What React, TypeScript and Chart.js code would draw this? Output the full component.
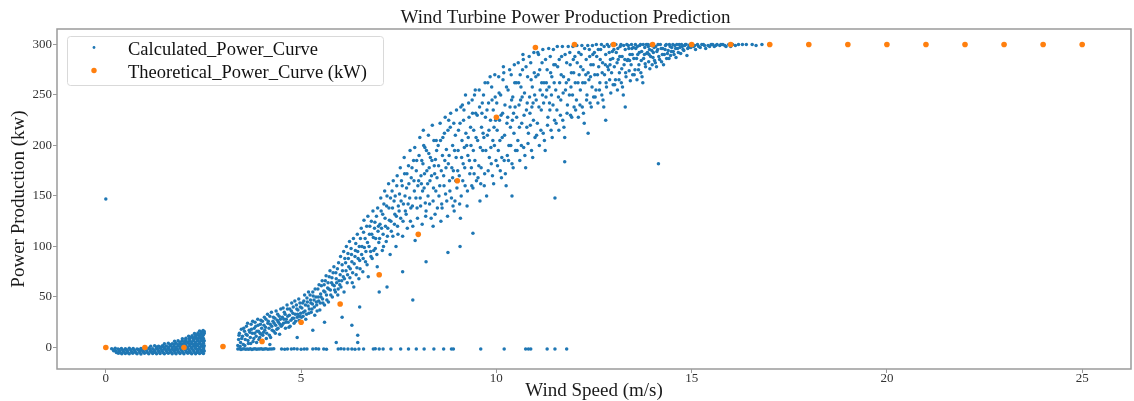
import React, { useEffect, useRef } from 'react';
import { Chart, registerables } from 'chart.js';

Chart.register(...registerables);

const chartTitle = 'Wind Turbine Power Production Prediction';
const xAxisLabel = 'Wind Speed (m/s)';
const yAxisLabel = 'Power Production (kw)';
const seriesNames = ['Calculated_Power_Curve', 'Theoretical_Power_Curve (kW)'];
const xTickValues = [0, 5, 10, 15, 20, 25];
const yTickValues = [0, 50, 100, 150, 200, 250, 300];

const theoreticalWind = [0, 1, 2, 3, 4, 5, 6, 7, 8, 9, 10, 11, 12, 13, 14, 15, 16, 17, 18, 19, 20, 21, 22, 23, 24, 25];
const theoreticalPower = [0, 0, 0, 1, 6, 25, 43, 72, 112, 165, 228, 297, 300, 300, 300, 300, 300, 300, 300, 300, 300, 300, 300, 300, 300, 300];

// calculated power: low wind (cut-in) region
const lowWindPoints = [
  [0.32,-5.8],[0.41,-6.2],[0.5,-5.9],[0.6,-6.3],[0.69,-5.7],[0.8,-6.1],[0.9,-6.4],[0.99,-5.8],[1.1,-6.2],[1.2,-5.9],[1.3,-6.3],[1.39,-6],[1.5,-6.2],[1.6,-5.8],[1.7,-6.1],[1.8,-6.3],[1.9,-5.9],[2.0,-6.2],[2.1,-5.8],[2.2,-6.1],[2.3,-6.3],[2.4,-5.9],[2.5,-6],
  [0.2,-3.3],[0.26,-3.8],[0.35,-3.4],[0.45,-3.7],[0.55,-3.2],[0.65,-3.6],[0.75,-3.9],[0.85,-3.3],[0.95,-3.6],[1.05,-3.4],[1.15,-3.8],[1.25,-3.2],[1.35,-3.5],[1.45,-3.7],[1.55,-3.3],[1.65,-3.6],[1.75,-3.4],[1.85,-3.8],[1.95,-3.2],[2.05,-3.5],[2.15,-3.7],[2.25,-3.3],[2.35,-3.6],[2.45,-3.4],[2.52,-3.5],
  [0.15,-1.2],[0.24,-0.8],[0.31,-1.4],[0.4,-1],[0.5,-1.3],[0.6,-0.7],[0.7,-1.1],[0.8,-1.4],[0.9,-0.9],[1.0,-1.2],[1.1,-0.8],[1.2,-1.3],[1.3,-1],[1.4,-0.7],[1.5,-1.2],[1.6,-0.9],[1.7,-1.3],[1.8,-1],[1.9,-0.8],[2.0,-1.2],[2.1,-0.9],[2.2,-1.1],[2.3,-0.8],[2.4,-1.3],[2.5,-1],
  [1.15,1.2],[1.25,1.6],[1.35,1.3],[1.45,1.8],[1.55,1.4],[1.65,1.7],[1.75,1.2],[1.85,1.6],[1.95,1.9],[2.05,1.3],[2.15,1.7],[2.25,1.5],[2.35,1.8],[2.45,1.2],[2.52,1.6],
  [1.5,3.6],[1.6,4.2],[1.7,3.8],[1.8,4.3],[1.9,3.7],[2.0,4.1],[2.1,4.4],[2.2,3.8],[2.3,4.2],[2.4,3.9],[2.5,4.3],
  [1.76,6.2],[1.85,6.7],[1.95,6.3],[2.05,6.8],[2.15,6.4],[2.25,6.6],[2.35,6.9],[2.45,6.3],[2.52,6.7],
  [1.96,8.6],[2.05,9.1],[2.14,8.8],[2.23,9.3],[2.32,8.9],[2.41,9.2],[2.5,8.8],
  [2.12,11.2],[2.21,11.7],[2.3,11.3],[2.39,11.8],[2.48,11.4],
  [2.27,13.8],[2.36,14.3],[2.44,13.9],[2.52,14.2],
  [2.4,16.3],[2.49,16.8],
  [0.55,-5],[1.22,-4.8],[1.78,-2],[2.28,2.8],[2.4,10],[2.02,5.5],[0.9,-2.4],[1.42,0.3],[2.35,-4.7]
];

const lowWindFillPoints = [
  [0.27,-4.9],[0.37,-5.2],[0.47,-4.7],[0.57,-5.1],[0.67,-4.8],[0.77,-5.2],[0.87,-4.9],[0.97,-4.6],[1.07,-5.1],[1.17,-4.8],[1.27,-5],[1.37,-4.7],[1.47,-5.2],[1.57,-4.9],[1.67,-4.6],[1.77,-5.1],[1.87,-4.8],[1.97,-5],[2.07,-4.7],[2.17,-5.2],[2.27,-4.9],[2.37,-4.6],[2.47,-5.1],
  [0.22,-2.3],[0.33,-2],[0.43,-2.5],[0.53,-2.2],[0.63,-1.9],[0.73,-2.4],[0.83,-2.1],[0.93,-2.6],[1.03,-2.2],[1.13,-1.9],[1.23,-2.4],[1.33,-2.1],[1.43,-2.5],[1.53,-2],[1.63,-2.3],[1.73,-2.6],[1.83,-2.1],[1.93,-2.4],[2.03,-2],[2.13,-2.3],[2.23,-2.5],[2.33,-2.1],[2.43,-2.4],[2.5,-2.2],
  [1.3,0.4],[1.4,0.2],[1.5,0.6],[1.6,0.3],[1.7,0.5],[1.8,0.2],[1.9,0.6],[2.0,0.3],[2.1,0.5],[2.2,0.2],[2.3,0.6],[2.4,0.4],[2.5,0.3],
  [1.65,2.8],[1.75,3.1],[1.85,2.7],[1.95,3],[2.05,2.6],[2.15,3.2],[2.25,2.9],[2.35,3.1],[2.45,2.8],
  [1.9,5.3],[2.0,5.6],[2.1,5.2],[2.2,5.5],[2.3,5.3],[2.4,5.7],[2.5,5.4],
  [2.05,7.8],[2.15,7.5],[2.25,7.9],[2.35,7.6],[2.45,7.8],
  [2.18,10.1],[2.28,10.4],[2.38,10.2],[2.47,10.5],
  [2.33,12.7],[2.42,12.9],[2.5,12.6],
  [2.45,15.3],[2.52,15.8]
];

// calculated power: turbine stopped (zero output) above cut-in
const zeroPowerPoints = [
  [3.38,-1.6],[3.42,-1.3],[3.46,-1.9],[3.5,-1.5],[3.54,-1.2],[3.58,-1.8],[3.62,-1.4],[3.66,-1.7],[3.7,-1.3],[3.74,-1.9],[3.78,-1.5],[3.82,-1.2],[3.86,-1.8],[3.9,-1.4],[3.94,-1.6],[3.98,-1.3],[4.02,-1.7],[4.06,-1.5],[4.1,-1.2],[4.15,-1.8],[4.2,-1.4],[4.25,-1.6],[4.3,-1.3],
  [4.5,-1.5],[4.58,-1.7],[4.65,-1.4],[4.75,-1.6],[4.82,-1.3],[4.9,-1.5],[5.0,-1.7],[5.08,-1.4],[5.15,-1.6],[5.3,-1.5],[5.38,-1.3],[5.45,-1.6],[5.58,-1.4],[5.65,-1.7],
  [5.95,-1.5],[6.02,-1.3],[6.1,-1.6],[6.2,-1.4],[6.3,-1.5],[6.38,-1.7],[6.48,-1.4],[6.6,-1.6],[6.85,-1.5],[6.9,-1.3],[7.0,-1.6],[7.1,-1.4],[7.3,-1.5],
  [7.55,-1.6],[7.75,-1.4],[7.95,-1.5],[8.15,-1.6],[8.4,-1.4],[8.65,-1.5],[8.85,-1.6],[8.9,-1.4],[9.6,-1.5],[10.2,-1.5],[10.75,-1.6],[10.82,-1.4],[10.88,-1.5],[11.3,-1.5],[11.5,-1.6],[11.8,-1.5]
];

// calculated power: ramp from cut-in to about 10 m/s
const rampPoints = [
  [3.38,2],[3.4,8],[3.42,14],[3.45,5],[3.47,18],[3.5,11],[3.52,3],[3.55,16],[3.57,8],[3.6,21],[3.62,12],[3.65,4],[3.67,17],[3.7,10],[3.72,23],[3.75,14],[3.77,6],[3.8,19],[3.82,25],[3.85,11],[3.87,16],[3.9,22],[3.92,8],[3.95,14],[3.97,27],[3.99,19],
  [4.02,12],[4.05,22],[4.07,17],[4.1,28],[4.12,14],[4.15,24],[4.18,19],[4.2,31],[4.22,10],[4.25,21],[4.28,26],[4.3,16],[4.33,29],[4.35,22],[4.38,18],[4.4,33],[4.42,25],[4.45,13],[4.47,28],[4.49,21],
  [4.52,30],[4.55,24],[4.57,35],[4.6,19],[4.62,28],[4.65,38],[4.67,25],[4.7,32],[4.72,21],[4.75,36],[4.78,29],[4.8,40],[4.82,24],[4.85,33],[4.88,42],[4.9,30],[4.92,37],[4.95,27],[4.97,44],[4.99,34],
  [5.02,39],[5.05,31],[5.07,46],[5.1,36],[5.12,28],[5.15,49],[5.18,41],[5.2,34],[5.23,52],[5.25,44],[5.28,38],[5.3,55],[5.33,47],[5.35,32],[5.38,50],[5.4,42],[5.43,58],[5.45,46],[5.48,37],[5.5,53],
  [5.52,61],[5.55,48],[5.58,56],[5.6,42],[5.62,66],[5.65,52],[5.68,59],[5.7,45],[5.72,70],[5.75,57],[5.78,64],[5.8,50],[5.82,74],[5.85,61],[5.88,55],[5.9,68],[5.93,78],[5.95,58],[5.97,66],[6.0,72],
  [6.02,60],[6.05,82],[6.08,70],[6.1,55],[6.12,88],[6.15,76],[6.18,64],[6.2,93],[6.22,80],[6.25,69],[6.28,98],[6.3,85],[6.32,74],[6.35,60],[6.38,90],[6.4,103],[6.43,79],[6.45,95],[6.48,68],[6.5,86],
  [6.52,108],[6.55,92],[6.58,75],[6.6,114],[6.62,99],[6.65,85],[6.68,120],[6.7,104],[6.72,70],[6.75,112],[6.78,95],[6.8,125],[6.82,88],[6.85,109],[6.88,118],[6.9,98],[6.93,130],[6.95,80],[6.97,115],[6.99,104],
  [7.02,122],[7.05,135],[7.08,96],[7.1,112],[7.12,142],[7.15,128],[7.18,105],[7.2,150],[7.22,118],[7.25,138],[7.28,92],[7.3,125],[7.33,155],[7.35,110],[7.38,145],[7.4,132],[7.43,100],[7.45,160],[7.47,120],[7.49,140],
  [7.52,152],[7.55,128],[7.57,165],[7.6,110],[7.62,142],[7.65,172],[7.67,135],[7.7,158],[7.72,118],[7.75,180],[7.78,148],[7.8,125],[7.82,168],[7.85,140],[7.88,185],[7.9,155],[7.92,106],[7.95,175],[7.97,138],[7.99,160],
  [8.02,190],[8.05,148],[8.07,170],[8.1,122],[8.12,182],[8.15,158],[8.17,198],[8.2,135],[8.22,175],[8.25,150],[8.27,192],[8.3,165],[8.33,128],[8.35,185],[8.38,145],[8.4,205],[8.42,172],[8.45,155],[8.47,195],[8.49,138],
  [8.08,162],[8.18,143],[8.28,178],[8.38,120],[8.44,186],[8.14,200],
  [8.52,180],[8.55,160],[8.57,205],[8.6,142],[8.62,190],[8.65,170],[8.67,212],[8.7,152],[8.72,196],[8.75,130],[8.77,182],[8.8,165],[8.82,218],[8.85,148],[8.88,200],[8.9,175],[8.92,135],[8.95,210],[8.97,188],[8.99,158],
  [8.58,125],[8.68,185],[8.78,225],[8.88,168],[8.94,145],
  [9.02,195],[9.05,170],[9.07,222],[9.1,150],[9.12,205],[9.15,182],[9.17,235],[9.2,160],[9.22,212],[9.25,140],[9.27,190],[9.3,228],[9.32,172],[9.35,200],[9.38,245],[9.4,158],[9.42,215],[9.45,185],[9.47,232],[9.49,165],
  [9.08,128],[9.18,198],[9.28,208],[9.36,178],[9.44,250],[9.13,240],
  [9.52,205],[9.55,180],[9.57,238],[9.6,162],[9.62,218],[9.65,195],[9.67,250],[9.7,172],[9.72,228],[9.75,150],[9.77,210],[9.8,242],[9.82,188],[9.85,225],[9.88,258],[9.9,170],[9.92,235],[9.95,200],[9.97,248],[9.99,185],
  [9.58,145],[9.68,208],[9.78,262],[9.86,198],[9.94,218],[9.63,232]
];

const rampFillPoints = [
  [3.41,12],[3.44,1],[3.48,9],[3.53,19],[3.56,2],[3.59,13],[3.63,24],[3.64,7],[3.69,15],[3.71,4],[3.73,18],[3.76,26],[3.79,9],[3.81,14],[3.84,21],[3.86,5],[3.89,28],[3.91,16],[3.94,10],[3.96,23],[3.98,13],
  [4.01,26],[4.04,15],[4.06,30],[4.09,20],[4.11,9],[4.14,33],[4.16,26],[4.19,12],[4.21,23],[4.24,35],[4.26,17],[4.29,30],[4.31,24],[4.34,14],[4.36,36],[4.39,27],[4.41,19],[4.44,31],[4.46,23],[4.48,38],
  [4.51,22],[4.54,39],[4.56,28],[4.59,33],[4.61,25],[4.64,42],[4.66,31],[4.69,20],[4.71,38],[4.74,27],[4.76,44],[4.79,34],[4.81,29],[4.84,46],[4.86,26],[4.89,38],[4.91,33],[4.94,48],[4.96,31],[4.98,40],
  [5.01,30],[5.04,44],[5.06,35],[5.09,52],[5.11,42],[5.14,33],[5.16,45],[5.19,55],[5.21,38],[5.24,47],[5.26,35],[5.29,43],[5.31,51],[5.34,40],[5.36,58],[5.39,45],[5.41,36],[5.44,50],[5.46,62],[5.49,44],
  [5.51,50],[5.54,66],[5.56,44],[5.59,62],[5.61,55],[5.64,71],[5.66,47],[5.69,64],[5.71,58],[5.74,76],[5.76,52],[5.79,69],[5.81,62],[5.84,80],[5.86,57],[5.89,74],[5.91,64],[5.94,52],[5.96,84],[5.99,62],
  [6.01,90],[6.04,66],[6.06,76],[6.09,95],[6.11,68],[6.14,84],[6.16,100],[6.19,72],[6.21,88],[6.24,105],[6.26,78],[6.29,92],[6.31,64],[6.34,108],[6.36,83],[6.39,96],[6.41,72],[6.44,112],[6.46,88],[6.49,100],
  [6.51,78],[6.54,118],[6.56,100],[6.59,88],[6.61,126],[6.64,108],[6.66,95],[6.69,82],[6.71,130],[6.74,100],[6.76,120],[6.79,90],[6.81,112],[6.84,135],[6.86,96],[6.89,124],[6.91,108],[6.94,92],[6.96,138],[6.98,120],
  [7.01,108],[7.04,148],[7.06,118],[7.09,132],[7.11,100],[7.14,155],[7.16,120],[7.19,140],[7.21,110],[7.24,162],[7.26,126],[7.29,148],[7.31,115],[7.34,138],[7.36,165],[7.39,122],[7.41,150],[7.44,130],[7.46,170],[7.48,112],
  [7.51,135],[7.54,178],[7.56,145],[7.59,160],[7.61,125],[7.64,188],[7.66,150],[7.69,132],[7.71,172],[7.74,142],[7.76,162],[7.79,195],[7.81,138],[7.84,178],[7.86,120],[7.89,165],[7.91,198],[7.94,148],[7.96,185],[7.98,128],
  [8.01,165],[8.04,208],[8.06,140],[8.09,185],[8.11,155],[8.13,215],[8.16,172],[8.19,130],[8.21,195],[8.24,162],[8.26,210],[8.29,142],[8.31,188],[8.34,170],[8.36,220],[8.39,158],[8.41,180],[8.43,132],[8.46,205],[8.48,168],
  [8.51,200],[8.53,150],[8.56,222],[8.59,175],[8.61,138],[8.63,208],[8.66,160],[8.69,228],[8.71,178],[8.73,145],[8.76,215],[8.79,190],[8.81,155],[8.83,232],[8.86,178],[8.89,140],[8.91,222],[8.93,195],[8.96,165],[8.98,235],
  [9.01,175],[9.03,215],[9.06,142],[9.09,238],[9.11,188],[9.14,165],[9.16,225],[9.19,178],[9.21,250],[9.24,200],[9.26,155],[9.29,242],[9.31,185],[9.34,218],[9.37,160],[9.39,232],[9.41,195],[9.43,172],[9.46,255],[9.48,208],
  [9.51,230],[9.53,168],[9.56,255],[9.59,198],[9.61,178],[9.64,242],[9.66,212],[9.69,160],[9.71,262],[9.73,195],[9.76,235],[9.79,175],[9.81,215],[9.84,268],[9.87,182],[9.89,245],[9.91,205],[9.93,162],[9.96,270],[9.98,225]
];

// calculated power: upper ramp, 10 to 14 m/s
const upperRampPoints = [
  [10.02,215],[10.05,195],[10.07,252],[10.1,175],[10.12,230],[10.15,208],[10.17,265],[10.2,185],[10.22,240],[10.25,160],[10.27,222],[10.3,255],[10.32,200],[10.35,238],[10.38,270],[10.4,182],[10.42,248],[10.45,212],[10.47,262],[10.49,195],
  [10.08,225],[10.18,278],[10.28,190],[10.36,218],[10.44,232],[10.13,168],
  [10.52,228],[10.55,205],[10.57,262],[10.6,185],[10.62,245],[10.65,222],[10.67,275],[10.7,198],[10.72,252],[10.75,178],[10.77,235],[10.8,268],[10.82,212],[10.85,248],[10.88,282],[10.9,195],[10.92,258],[10.95,225],[10.97,272],[10.99,208],
  [10.58,240],[10.68,290],[10.78,218],[10.86,232],[10.94,242],[10.63,258],
  [11.02,245],[11.05,222],[11.07,270],[11.1,200],[11.12,255],[11.15,235],[11.17,282],[11.2,212],[11.22,262],[11.25,195],[11.27,248],[11.3,275],[11.32,228],[11.35,258],[11.38,288],[11.4,215],[11.42,268],[11.45,240],[11.47,280],[11.49,225],
  [11.08,290],[11.18,250],[11.28,262],[11.36,242],
  [11.52,255],[11.55,235],[11.57,278],[11.6,215],[11.62,262],[11.65,245],[11.67,288],[11.7,225],[11.72,268],[11.75,208],[11.77,255],[11.8,282],[11.82,240],[11.85,265],[11.88,292],[11.9,230],[11.92,272],[11.95,250],[11.97,285],[11.99,238],
  [12.02,262],[12.05,245],[12.07,282],[12.1,228],[12.12,270],[12.15,255],[12.17,290],[12.2,238],[12.22,275],[12.25,222],[12.27,262],[12.3,285],[12.32,250],[12.35,272],[12.38,295],[12.4,242],[12.42,280],[12.45,258],[12.47,290],[12.49,248],
  [12.52,270],[12.55,255],[12.57,288],[12.6,242],[12.62,278],[12.65,262],[12.67,295],[12.7,250],[12.72,282],[12.75,238],[12.77,270],[12.8,290],[12.82,258],[12.85,278],[12.88,298],[12.9,265],[12.92,285],[12.95,272],[12.97,293],[12.99,260],
  [13.02,278],[13.05,265],[13.07,292],[13.1,255],[13.12,285],[13.15,272],[13.17,298],[13.2,262],[13.22,288],[13.25,250],[13.27,280],[13.3,295],[13.32,268],[13.35,284],[13.38,299],[13.4,274],[13.42,290],[13.45,280],[13.47,296],[13.49,270],
  [13.52,286],[13.55,275],[13.57,296],[13.6,265],[13.62,290],[13.65,280],[13.67,299],[13.7,272],[13.72,293],[13.75,262],[13.77,286],[13.8,297],[13.82,278],[13.85,291],[13.88,300],[13.9,283],[13.92,295],[13.95,288],[13.97,299],[13.99,280]
];

const upperRampFillPoints = [
  [10.01,242],[10.03,180],[10.06,268],[10.09,205],[10.11,250],[10.14,188],[10.16,232],[10.19,272],[10.21,210],[10.23,172],[10.26,258],[10.29,228],[10.31,185],[10.34,275],[10.37,200],[10.39,245],[10.41,225],[10.43,178],[10.46,280],[10.48,238],
  [10.51,262],[10.53,195],[10.56,282],[10.59,218],[10.61,270],[10.64,200],[10.66,248],[10.69,285],[10.71,230],[10.73,190],[10.76,278],[10.79,242],[10.81,202],[10.84,288],[10.87,220],[10.89,265],[10.91,238],[10.93,188],[10.96,292],[10.98,250],
  [11.01,268],[11.03,210],[11.06,292],[11.09,238],[11.11,275],[11.14,215],[11.16,262],[11.19,295],[11.21,242],[11.23,205],[11.26,285],[11.29,255],[11.31,220],[11.34,296],[11.37,235],[11.39,272],[11.41,250],[11.43,208],[11.46,295],[11.48,262],
  [11.51,280],[11.53,222],[11.56,298],[11.59,248],[11.61,285],[11.64,230],[11.66,270],[11.69,298],[11.71,252],[11.73,218],[11.76,290],[11.79,262],[11.81,232],[11.84,298],[11.87,250],[11.89,280],[11.91,258],[11.93,228],[11.96,298],[11.98,272],
  [12.01,288],[12.03,235],[12.06,299],[12.09,262],[12.11,292],[12.14,240],[12.16,278],[12.19,299],[12.21,262],[12.23,232],[12.26,296],[12.29,270],[12.31,245],[12.34,299],[12.37,265],[12.39,288],[12.41,268],[12.43,238],[12.46,299],[12.48,280],
  [12.51,292],[12.53,248],[12.56,300],[12.59,270],[12.61,295],[12.64,255],[12.66,285],[12.69,300],[12.71,272],[12.73,245],[12.76,298],[12.79,280],[12.81,262],[12.84,300],[12.87,275],[12.89,292],[12.91,280],[12.93,252],[12.96,300],[12.98,286],
  [13.01,295],[13.03,260],[13.06,300],[13.09,282],[13.11,296],[13.14,265],[13.16,288],[13.19,300],[13.21,276],[13.23,258],[13.26,299],[13.29,285],[13.31,272],[13.34,300],[13.37,285],[13.39,296],[13.41,284],[13.43,264],[13.46,300],[13.48,290],
  [13.51,297],[13.53,270],[13.56,300],[13.59,286],[13.61,298],[13.64,275],[13.66,292],[13.69,300],[13.71,284],[13.73,268],[13.76,300],[13.79,290],[13.81,281],[13.84,300],[13.87,292],[13.89,298],[13.91,290],[13.93,276],[13.96,300],[13.98,294]
];

// calculated power: approaching rated output
const ratedPoints = [
  [14.02,292],[14.05,284],[14.08,298],[14.1,278],[14.13,295],[14.16,288],[14.2,300],[14.23,283],[14.26,296],[14.3,290],[14.33,299],[14.36,286],[14.4,294],[14.43,300],[14.46,289],[14.49,297],
  [14.53,293],[14.57,299],[14.6,287],[14.64,296],[14.68,300],[14.72,291],[14.76,298],[14.8,294],[14.84,300],[14.88,289],[14.92,297],[14.96,300],
  [15.05,298],[15.1,295],[15.15,300],[15.22,297],[15.3,300],[15.36,296],[15.42,299],[15.5,300],[15.58,298],[15.65,300],[15.72,299],[15.8,300],[15.88,298],[15.95,300],[16.05,300],[16.12,299],[16.2,300],[16.4,300],[16.55,300],[16.8,300]
];

const ratedFillPoints = [
  [14.01,287],[14.04,297],[14.07,282],[14.11,293],[14.14,300],[14.18,285],[14.22,296],[14.25,290],[14.28,280],[14.32,295],[14.35,300],[14.38,291],[14.42,286],[14.45,298],[14.48,293],[14.52,300],[14.55,290],[14.59,296],[14.62,300],[14.66,292],
  [14.7,297],[14.74,300],[14.78,295],[14.82,299],[14.86,300],[14.9,296],[14.94,299],[14.98,297],[15.02,300],[15.08,299],[15.18,298],[15.26,300],[15.33,299],[15.46,298],[15.54,300],[15.62,299],[15.75,300],[15.85,299],[16.0,298],[16.3,300],[16.65,299]
];

// calculated power: scattered points off the main curve
const outlierPoints = [
  [0,147],[14.15,182],[11.75,184],[11.5,148],[12.35,212],[7.86,47],[9.07,100],[8.76,94],[9.4,113],[6.3,22],[6.45,12],[6.45,5],[5.9,5],[5.3,17],[4.9,10],[6.5,40],[7.2,60],[7.6,75],[8.2,85],[5.6,25],[4.2,3],[6.05,30],[7.0,55],[12.8,225],[10.4,150],[13.3,238]
];

const SERIF = "'Liberation Serif', 'Times New Roman', 'DejaVu Serif', serif";
const BLUE = '#1f77b4';
const ORANGE = '#ff7f0e';

const frameAndLegend = {
  id: 'frameAndLegend',
  afterDraw(chart: any) {
    const { ctx, chartArea } = chart;
    const { left, top, right, bottom } = chartArea;
    ctx.save();
    ctx.strokeStyle = '#9a9a9a';
    ctx.lineWidth = 1.5;
    ctx.strokeRect(left, top, right - left, bottom - top);

    const bx = left + 10.5;
    const by = top + 7.5;
    const bw = 316;
    const bh = 49;
    ctx.beginPath();
    if (ctx.roundRect) ctx.roundRect(bx, by, bw, bh, 3);
    else ctx.rect(bx, by, bw, bh);
    ctx.fillStyle = 'rgba(255,255,255,0.8)';
    ctx.fill();
    ctx.strokeStyle = '#d9d9d9';
    ctx.lineWidth = 1;
    ctx.stroke();

    chart.data.datasets.forEach((d: any, i: number) => {
      const cy = by + 11 + i * 23;
      ctx.beginPath();
      ctx.arc(bx + 26.5, cy, i === 0 ? 1.4 : 2.7, 0, Math.PI * 2);
      ctx.fillStyle = d.backgroundColor;
      ctx.fill();
      ctx.fillStyle = '#111';
      ctx.font = `18.5px ${SERIF}`;
      ctx.textBaseline = 'alphabetic';
      ctx.textAlign = 'left';
      ctx.fillText(d.label, bx + 60.5, cy + 7);
    });
    ctx.restore();
  },
};

export default function App() {
  const canvasRef = useRef<HTMLCanvasElement | null>(null);

  useEffect(() => {
    const canvas = canvasRef.current;
    if (!canvas) return;
    const calculated = [
      ...lowWindPoints,
      ...lowWindFillPoints,
      ...zeroPowerPoints,
      ...rampPoints,
      ...rampFillPoints,
      ...upperRampPoints,
      ...upperRampFillPoints,
      ...ratedPoints,
      ...ratedFillPoints,
      ...outlierPoints,
    ].map(([x, y]) => ({ x, y }));
    const theoretical = theoreticalWind.map((x, i) => ({ x, y: theoreticalPower[i] }));

    const chart = new Chart(canvas, {
      type: 'scatter',
      data: {
        datasets: [
          {
            label: seriesNames[0],
            data: calculated,
            backgroundColor: BLUE,
            borderWidth: 0,
            pointRadius: 1.75,
            pointHoverRadius: 1.75,
            order: 2,
          },
          {
            label: seriesNames[1],
            data: theoretical,
            backgroundColor: ORANGE,
            borderWidth: 0,
            pointRadius: 2.8,
            pointHoverRadius: 2.8,
            order: 1,
          },
        ],
      },
      options: {
        animation: false,
        responsive: false,
        devicePixelRatio: 1,
        events: [],
        layout: { padding: { left: 0, right: 3, top: 0, bottom: 0 } },
        plugins: {
          legend: { display: false },
          tooltip: { enabled: false },
          title: {
            display: true,
            text: chartTitle,
            color: '#1a1a1a',
            font: { family: SERIF, size: 19, weight: 'normal', lineHeight: 1.2 },
            padding: { top: 6.2, bottom: 0 },
          },
        },
        scales: {
          x: {
            type: 'linear',
            min: -1.25,
            max: 26.25,
            afterBuildTicks: (s: any) => {
              s.ticks = xTickValues.map((v) => ({ value: v }));
            },
            afterFit: (s: any) => {
              s.height = 32;
            },
            ticks: {
              font: { family: SERIF, size: 13, lineHeight: 1 },
              color: '#333',
              padding: -1,
              maxRotation: 0,
              autoSkip: false,
            },
            grid: { drawOnChartArea: false, drawTicks: true, tickLength: 4, color: '#999', lineWidth: 1 },
            border: { display: false },
            title: {
              display: true,
              text: xAxisLabel,
              color: '#1a1a1a',
              font: { family: SERIF, size: 19, lineHeight: 1.1 },
              padding: { top: 0, bottom: 0 },
            },
          },
          y: {
            type: 'linear',
            min: -21.3,
            max: 315.3,
            afterBuildTicks: (s: any) => {
              s.ticks = yTickValues.map((v) => ({ value: v }));
            },
            afterFit: (s: any) => {
              s.width = 57;
            },
            ticks: {
              font: { family: SERIF, size: 13, lineHeight: 1 },
              color: '#333',
              padding: 1,
              autoSkip: false,
            },
            grid: { drawOnChartArea: false, drawTicks: true, tickLength: 4, color: '#999', lineWidth: 1 },
            border: { display: false },
            title: {
              display: true,
              text: yAxisLabel,
              color: '#1a1a1a',
              font: { family: SERIF, size: 19, lineHeight: 1.1 },
              padding: { top: 8.5, bottom: 0 },
            },
          },
        },
      },
      plugins: [frameAndLegend],
    } as any);

    return () => {
      chart.destroy();
    };
  }, []);

  return (
    <div style={{ position: 'fixed', left: 0, top: 0, width: 1134, height: 401, background: '#fff' }}>
      <canvas ref={canvasRef} width={1134} height={401} style={{ display: 'block', width: 1134, height: 401 }} />
    </div>
  );
}
